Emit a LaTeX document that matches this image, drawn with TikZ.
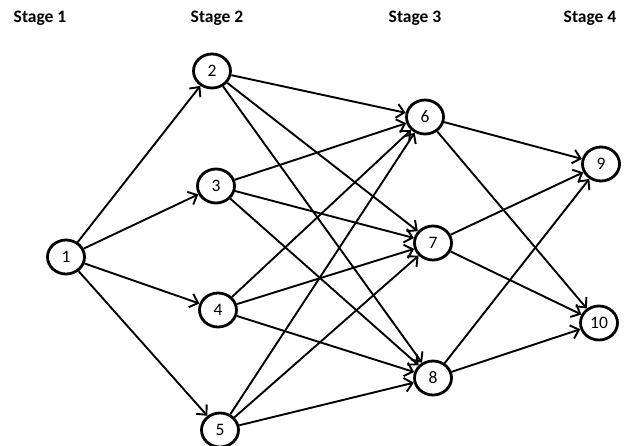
\documentclass[tikz,border=0pt]{standalone}
\usepackage{fontspec}
\setmainfont{Carlito}
\usetikzlibrary{arrows.meta,shapes.geometric}
\begin{document}
\begin{tikzpicture}[x=1pt,y=-1pt,
  stnode/.style={draw,line width=2.8pt,ellipse,minimum width=37pt,minimum height=34pt,inner sep=0pt,font=\fontsize{17.5}{17.5}\selectfont},
  stagelab/.style={font=\bfseries\fontsize{17.5}{17.5}\selectfont},
  edge/.style={line width=1.9pt,-{Straight Barb[length=7.5pt,width=14pt,line width=1.9pt]}}]
\useasboundingbox (0,0) rectangle (626,446);
\node[stagelab] (s1) at (40,18) {Stage 1};
\node[stagelab] (s2) at (217,18) {Stage 2};
\node[stagelab] (s3) at (415,18) {Stage 3};
\node[stagelab] (s4) at (590,18) {Stage 4};
\node[stnode] (n1) at (66,257) {1};
\node[stnode] (n2) at (212,71) {2};
\node[stnode] (n3) at (216,186) {3};
\node[stnode] (n4) at (218,310) {4};
\node[stnode] (n5) at (220,430) {5};
\node[stnode] (n6) at (425,117) {6};
\node[stnode] (n7) at (433,243) {7};
\node[stnode] (n8) at (433,378) {8};
\node[stnode] (n9) at (601,164) {9};
\node[stnode] (n10) at (599,323) {10};
\foreach \a/\b in {n1/n2,n1/n3,n1/n4,n1/n5,
  n2/n6,n2/n7,n2/n8,n3/n6,n3/n7,n3/n8,n4/n6,n4/n7,n4/n8,n5/n6,n5/n7,n5/n8,
  n6/n9,n6/n10,n7/n9,n7/n10,n8/n9,n8/n10}
  \draw[edge] (\a) -- (\b);
\end{tikzpicture}
\end{document}
